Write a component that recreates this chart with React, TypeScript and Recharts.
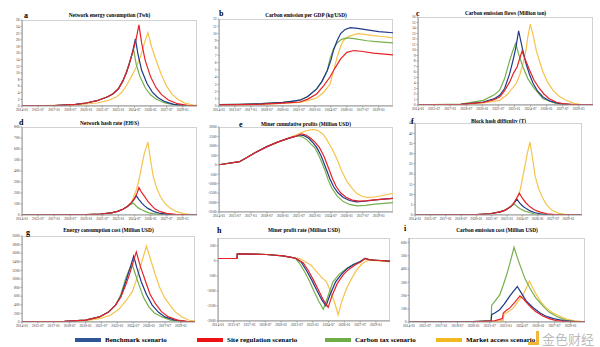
import React from 'react';
import { LineChart, Line, XAxis, YAxis } from 'recharts';

type Pt = [number, number];

// months counted from 2014-01
const MONTH_TICKS = [0, 18, 36, 54, 72, 90, 108, 126, 144, 162, 180];
const MONTH_LABELS = ['2014-01', '2015-07', '2017-01', '2018-07', '2020-01', '2021-07', '2023-01', '2024-07', '2026-01', '2027-07', '2029-01'];

const SCENARIOS = ['Benchmark scenario', 'Site regulation scenario', 'Carbon tax scenario', 'Market access scenario'];
const LINE_COLORS = ['#1f3a8a', '#e62229', '#76b04e', '#f6c34b'];
const SWATCH_COLORS = ['#2f5597', '#ee1111', '#70ad47', '#f2b822'];

// a - Network energy consumption (Twh)
const A_RISE: Pt[] = [[0, 0.05], [36, 0.15], [60, 0.5], [72, 0.9], [84, 1.6], [96, 2.8], [102, 3.7], [108, 5.2], [113, 7.6], [117, 10.2]];
const A_BENCH: Pt[] = [...A_RISE, [120, 12.6], [124, 16.6], [127, 20.3], [130, 15.5], [134, 10.8], [140, 6.8], [146, 4.2], [152, 2.6], [160, 1.3], [170, 0.5], [182, 0.15], [196, 0.05]];
const A_SITE: Pt[] = [...A_RISE, [120, 12.5], [124, 16.3], [127.5, 19.8], [131, 24.5], [134, 19], [138, 13.8], [144, 8.8], [150, 5.6], [156, 3.5], [164, 1.8], [174, 0.7], [185, 0.2], [196, 0.05]];
const A_TAX: Pt[] = [...A_RISE, [120, 12.9], [125, 17.1], [128, 12.5], [132, 9], [138, 5.5], [144, 3.4], [150, 2.1], [160, 0.9], [170, 0.4], [185, 0.1], [196, 0.03]];
const A_MARKET: Pt[] = [[0, 0.05], [60, 0.3], [84, 0.9], [96, 1.6], [106, 2.8], [112, 4.2], [117, 6.2], [122, 8.6], [128, 11.8], [133, 15.2], [137, 19], [141, 22.2], [145, 18], [150, 14], [156, 9.5], [162, 6], [168, 3.6], [175, 1.9], [183, 0.8], [192, 0.3], [196, 0.2]];

// b - Carbon emission per GDP (kg/USD)
const B_RISE: Pt[] = [[0, 0.18], [24, 0.22], [48, 0.32], [72, 0.5], [84, 0.68], [91, 0.8], [100, 1.3], [110, 2.35], [116, 3.4], [122, 4.9]];
const B_BENCH: Pt[] = [...B_RISE, [126, 6.3], [129, 7.7], [133, 9.0], [137, 10.0], [142, 10.55], [148, 10.8], [156, 10.7], [167, 10.5], [180, 10.25], [196, 10.1]];
const B_SITE: Pt[] = [[0, 0.15], [48, 0.25], [72, 0.4], [91, 0.55], [100, 0.95], [110, 1.66], [118, 2.8], [125, 4.0], [131, 5.3], [137, 6.5], [144, 7.4], [152, 7.65], [160, 7.55], [174, 7.3], [196, 7.05]];
const B_TAX: Pt[] = [...B_RISE, [125, 6.5], [129, 7.9], [133, 8.7], [138, 9.2], [144, 9.4], [152, 9.3], [167, 9.0], [180, 8.85], [196, 8.7]];
const B_MARKET: Pt[] = [[0, 0.15], [48, 0.22], [72, 0.35], [91, 0.5], [100, 0.75], [110, 1.1], [118, 1.9], [125, 3.0], [129, 4.8], [133, 6.7], [137, 8.2], [140, 9.0], [146, 9.6], [156, 9.97], [166, 9.85], [174, 9.7], [186, 9.55], [196, 9.4]];

// c - Carbon emission flows (Million ton)
const C_BENCH: Pt[] = [[0, 0.02], [48, 0.1], [73, 0.55], [85, 1.1], [91.5, 1.76], [97, 3.0], [102.7, 5.7], [107, 8.5], [110, 10.8], [112.7, 13.5], [117, 10.2], [121, 7.5], [125, 5.5], [129, 3.9], [134, 2.5], [140, 1.45], [148, 0.7], [159, 0.24], [175, 0.05], [196, 0.01]];
const C_SITE: Pt[] = [[0, 0.02], [48, 0.1], [73, 0.45], [85, 0.95], [91.5, 1.45], [97, 2.6], [102.7, 4.2], [107, 5.8], [111, 6.9], [116.5, 9.8], [120, 8.3], [125, 6.3], [130, 4.5], [136, 3.0], [141, 2.0], [147, 1.15], [155, 0.5], [162, 0.24], [178, 0.05], [196, 0.01]];
const C_TAX: Pt[] = [[0, 0.03], [48, 0.15], [73, 0.85], [85, 1.8], [91.5, 2.7], [97, 4.8], [102.7, 8.1], [106, 9.8], [109.4, 11.2], [113, 9.1], [117.6, 6.9], [123, 4.8], [129, 3.3], [135, 2.1], [140, 1.15], [150, 0.55], [155, 0.24], [170, 0.05], [196, 0.01]];
const C_MARKET: Pt[] = [[0, 0.02], [48, 0.08], [73, 0.4], [91.5, 0.85], [100, 1.9], [110, 3.9], [114, 5.5], [117.6, 7.5], [121, 10.0], [123, 12.4], [125.8, 14.7], [129, 12.6], [132.5, 9.9], [137, 7.5], [140, 6.0], [145, 4.2], [151, 2.7], [158, 1.6], [166, 0.85], [174, 0.35], [181, 0.12], [196, 0.02]];

// d - Network hash rate (EH/S)
const D_RISE: Pt[] = [[0, 0], [48, 1], [72, 3], [88, 9], [100, 20], [107, 33], [113, 52], [118, 78]];
const D_BENCH: Pt[] = [...D_RISE, [122, 105], [125, 135], [128, 174], [131, 140], [134, 110], [137, 85], [141, 60], [148, 30], [155, 14], [165, 5], [180, 1], [196, 0]];
const D_SITE: Pt[] = [...D_RISE, [122, 108], [126, 150], [129, 200], [131, 250], [134, 205], [138, 160], [141, 123], [145, 88], [149, 54], [155, 30], [162, 15], [172, 5], [185, 1], [196, 0]];
const D_TAX: Pt[] = [...D_RISE, [122, 98], [125, 108], [128, 80], [131, 60], [134, 48], [138, 33], [142, 20], [147, 12], [155, 5], [170, 1], [196, 0]];
const D_MARKET: Pt[] = [...D_RISE, [122, 110], [125, 160], [128, 228], [131, 320], [134, 439], [137, 560], [141, 662], [144, 500], [147, 349], [151, 240], [155, 168], [160, 105], [166, 63], [173, 30], [181, 12], [190, 4], [196, 2]];

// e - Miner cumulative profits (Million USD)
const E_RISE: Pt[] = [[0, 0], [23, 162], [32, 400], [40, 620], [54, 960], [66, 1200], [78, 1400], [86, 1500]];
const E_BENCH: Pt[] = [...E_RISE, [91, 1580], [96, 1540], [101, 1400], [106, 1160], [110, 920], [115, 480], [121, -250], [125, -750], [129, -1150], [134, -1480], [140, -1730], [147, -1890], [155, -1960], [164, -1930], [174, -1870], [185, -1820], [196, -1780]];
const E_SITE: Pt[] = [...E_RISE, [93, 1640], [98, 1580], [103, 1420], [108, 1200], [113, 920], [118, 480], [124, -250], [128, -750], [132, -1150], [137, -1480], [143, -1720], [150, -1870], [158, -1925], [167, -1900], [178, -1840], [196, -1780]];
const E_TAX: Pt[] = [...E_RISE, [89, 1530], [94, 1470], [99, 1320], [104, 1080], [108, 900], [113, 440], [119, -250], [123, -800], [127, -1230], [133, -1650], [140, -1950], [147, -2100], [155, -2180], [165, -2150], [176, -2080], [196, -2000]];
const E_MARKET: Pt[] = [[0, 0], [23, 162], [32, 400], [40, 620], [54, 960], [66, 1200], [76, 1380], [86, 1560], [92, 1690], [98, 1800], [106, 1870], [112, 1800], [117, 1620], [121, 1370], [127, 880], [133, 290], [138, -300], [144, -880], [150, -1250], [155, -1510], [160, -1640], [166, -1730], [174, -1720], [183, -1640], [196, -1510]];

// f - Block hash difficulty (T)
const F_RISE: Pt[] = [[0, 0], [48, 0.05], [72, 0.2], [88, 0.6], [100, 1.5], [106, 2.4], [112, 4.0]];
const F_BENCH: Pt[] = [...F_RISE, [116, 5.8], [119.6, 7.7], [123, 5.8], [127, 4.2], [131, 3.0], [135, 2.0], [140, 1.2], [147, 0.6], [155, 0.25], [170, 0.05], [196, 0]];
const F_SITE: Pt[] = [...F_RISE, [116, 5.8], [119, 8.0], [122.5, 10.7], [126, 8.2], [130, 6.0], [135, 4.0], [140, 2.6], [147, 1.4], [155, 0.6], [165, 0.2], [180, 0.05], [196, 0]];
const F_TAX: Pt[] = [...F_RISE, [114.5, 4.8], [117, 5.3], [120, 4.0], [124, 2.9], [129, 1.9], [134, 1.2], [140, 0.6], [150, 0.2], [165, 0.05], [196, 0]];
const F_MARKET: Pt[] = [...F_RISE, [117, 6.0], [120, 8.5], [123.5, 12.3], [126, 17.5], [129, 24], [132, 30.5], [135, 35.7], [138, 27.5], [141, 19], [145, 13], [149, 9], [154, 5.2], [160.7, 2.3], [168, 0.9], [176, 0.3], [190, 0.05], [196, 0]];

// g - Energy consumption cost (Million USD)
const G_RISE: Pt[] = [[0, 2], [48, 15], [72, 45], [87.7, 118], [98, 230], [106, 392]];
const G_BENCH: Pt[] = [...G_RISE, [112, 600], [117.6, 941], [122, 1230], [126.5, 1530], [130, 1270], [135, 941], [141, 640], [147.5, 392], [155, 220], [162, 118], [172, 50], [185, 16], [196, 6]];
const G_SITE: Pt[] = [...G_RISE, [112, 580], [117.6, 863], [122, 1120], [126, 1400], [129.5, 1631], [134, 1300], [140, 941], [145, 650], [151, 431], [158, 240], [166, 118], [176, 45], [187, 16], [196, 6]];
const G_TAX: Pt[] = [...G_RISE, [112, 640], [117.6, 1020], [121, 1200], [125, 1333], [128, 1140], [132.5, 863], [138, 560], [143.7, 353], [150, 210], [158.7, 118], [168, 45], [180, 16], [196, 6]];
const G_MARKET: Pt[] = [[0, 2], [48, 10], [72, 30], [88, 80], [100, 157], [110, 300], [118, 500], [125, 706], [129, 940], [132.5, 1176], [136, 1420], [141, 1765], [145, 1500], [151, 1098], [156, 800], [162, 549], [168, 380], [173.6, 235], [181, 120], [188.5, 47], [196, 20]];

// h - Miner profit rate (Million USD)
const H_START: Pt[] = [[0, 78], [21.5, 78], [22, 233], [40, 225], [55, 211], [74, 167], [85, 110]];
const H_BENCH: Pt[] = [...H_START, [89, 78], [95, -50], [101, -330], [107, -650], [113, -1000], [118, -1280], [123, -1500], [128, -1100], [134, -700], [141, -430], [148, -240], [155, -110], [162, -20], [167.5, 78], [172, 40], [180, 20], [196, -11]];
const H_SITE: Pt[] = [...H_START, [89, 78], [97, -60], [103, -330], [109, -650], [115, -1000], [120, -1300], [125.6, -1545], [130, -1150], [136, -750], [143, -450], [150, -260], [157, -120], [163, -30], [167.5, 78], [172, 40], [180, 20], [196, -11]];
const H_TAX: Pt[] = [...H_START, [89, 60], [93, -89], [99, -380], [104.7, -700], [110, -1050], [115, -1350], [120, -1611], [125, -1200], [131, -700], [138, -450], [146.5, -255], [154, -120], [161.8, -33], [167.5, 78], [172, 40], [180, 20], [196, -11]];
const H_MARKET: Pt[] = [...H_START, [93, 78], [100, -40], [106, -144], [112, -350], [118, -550], [123.7, -700], [128, -1000], [133, -1400], [137, -1790], [141, -1350], [146.5, -922], [152, -600], [158, -311], [163, -130], [167.5, -33], [172, 22], [180, 10], [196, -33]];

// i - Carbon emission cost (Million USD)
const I_BENCH: Pt[] = [[0, 0], [40, 1], [70, 3], [91.5, 8], [92, 55], [96, 70], [101, 93], [106, 135], [112, 193], [116, 230], [120.6, 268], [125, 220], [131, 155], [138, 110], [146, 68], [153, 42], [161, 25], [172, 10], [185, 3], [196, 1]];
const I_SITE: Pt[] = [[0, 0], [70, 2], [95, 8], [101, 20], [104, 25], [105, 68], [109, 90], [112, 105], [118, 150], [123.6, 198], [128, 170], [134.7, 118], [141, 80], [149.5, 43], [156, 25], [164, 10], [176, 3], [196, 1]];
const I_TAX: Pt[] = [[0, 0], [40, 1], [70, 3], [91.5, 8], [92, 125], [96, 160], [101, 205], [105, 280], [108.7, 355], [113, 460], [117, 565], [120, 500], [123.6, 430], [129, 330], [134.7, 255], [141, 185], [149.5, 118], [156, 75], [164, 43], [175.5, 10], [185, 3], [196, 1]];
const I_MARKET: Pt[] = [[0, 0], [70, 2], [100, 8], [105, 12], [105.5, 55], [110, 75], [116, 105], [121, 150], [127, 205], [131, 260], [134, 310], [138, 255], [142, 205], [147, 150], [153, 105], [160, 70], [168, 43], [176, 20], [183, 10], [196, 2]];

const range = (a: number, b: number, s: number) => {
  const out: number[] = [];
  for (let v = a; v <= b + 1e-9; v += s) out.push(v);
  return out;
};

interface PanelSpec {
  letter: string;
  title: string;
  frame: [number, number, number, number];
  titleY: number;
  letterPos: [number, number];
  domain: [number, number];
  ticks: number[];
  series: Pt[][]; // bench, site, tax, market
}

const PANELS: PanelSpec[] = [
  { letter: 'a', title: 'Network energy consumption (Twh)', frame: [22, 20, 197, 106], titleY: 15, letterPos: [24, 11], domain: [0, 26], ticks: range(0, 26, 2), series: [A_BENCH, A_SITE, A_TAX, A_MARKET] },
  { letter: 'b', title: 'Carbon emission per GDP (kg/USD)', frame: [219, 19, 393, 106], titleY: 15, letterPos: [219, 9], domain: [0, 12], ticks: range(0, 12, 1), series: [B_BENCH, B_SITE, B_TAX, B_MARKET] },
  { letter: 'c', title: 'Carbon emission flows (Million ton)', frame: [418, 17, 593, 105], titleY: 13, letterPos: [416, 9], domain: [0, 16], ticks: range(0, 16, 1), series: [C_BENCH, C_SITE, C_TAX, C_MARKET] },
  { letter: 'd', title: 'Network hash rate (EH/S)', frame: [22, 127, 197, 215], titleY: 123, letterPos: [19, 118], domain: [0, 800], ticks: range(0, 800, 100), series: [D_BENCH, D_SITE, D_TAX, D_MARKET] },
  { letter: 'e', title: 'Miner cumulative profits (Million USD)', frame: [219, 127, 393, 212], titleY: 124, letterPos: [239, 120], domain: [-2500, 2000], ticks: range(-2500, 2000, 500), series: [E_BENCH, E_SITE, E_TAX, E_MARKET] },
  { letter: 'f', title: 'Block hash difficulty (T)', frame: [415, 123, 582, 215], titleY: 121, letterPos: [411, 117], domain: [0, 45], ticks: range(0, 45, 5), series: [F_BENCH, F_SITE, F_TAX, F_MARKET] },
  { letter: 'g', title: 'Energy consumption cost (Million USD)', frame: [22, 236, 195, 322], titleY: 230, letterPos: [26, 228], domain: [0, 2000], ticks: range(0, 2000, 200), series: [G_BENCH, G_SITE, G_TAX, G_MARKET] },
  { letter: 'h', title: 'Miner profit rate (Million USD)', frame: [218, 238, 390, 321], titleY: 230, letterPos: [217, 226], domain: [-2000, 760], ticks: range(-2000, 500, 500), series: [H_BENCH, H_SITE, H_TAX, H_MARKET] },
  { letter: 'i', title: 'Carbon emission cost (Million USD)', frame: [409, 238, 585, 322], titleY: 230, letterPos: [404, 224], domain: [0, 635], ticks: range(0, 600, 100), series: [I_BENCH, I_SITE, I_TAX, I_MARKET] },
];

const SERIF = '"Liberation Serif", "Times New Roman", serif';
const tickStyle = { fontSize: 3.6, fill: '#333', fontFamily: SERIF };
const toPts = (a: Pt[]) => a.map(([m, v]) => ({ m, v }));
const DRAW_ORDER = [3, 2, 0, 1];

const Panel: React.FC<{ p: PanelSpec }> = ({ p }) => {
  const [x1, y1, x2, y2] = p.frame;
  const padL = 22, padT = 2, padB = 9, padR = 2;
  const width = x2 - x1 + padL + padR;
  const height = y2 - y1 + padT + padB;
  return (
    <>
      <div style={{ position: 'absolute', left: x1, width: x2 - x1, top: p.titleY - 4, fontSize: 5.3, fontWeight: 'bold', fontFamily: SERIF, textAlign: 'center', lineHeight: '8px', whiteSpace: 'nowrap' }}>
        {p.title}
      </div>
      <div style={{ position: 'absolute', left: x1 - padL, top: y1 - padT, width, height }}>
        <div style={{ position: 'absolute', left: padL, top: padT, width: x2 - x1, height: y2 - y1, border: '1px solid #d2d2d2', boxSizing: 'border-box' }} />
        <LineChart width={width} height={height} margin={{ top: padT, right: padR, bottom: 0, left: 0 }}>
          <XAxis
            type="number"
            dataKey="m"
            domain={[0, 196]}
            ticks={MONTH_TICKS}
            interval={0}
            tickFormatter={(v: number) => MONTH_LABELS[MONTH_TICKS.indexOf(v)] ?? ''}
            tick={tickStyle}
            tickSize={1.5}
            tickMargin={0.5}
            height={padB}
            axisLine={{ stroke: '#999' }}
            tickLine={{ stroke: '#999' }}
            allowDataOverflow
          />
          <YAxis
            type="number"
            domain={p.domain}
            ticks={p.ticks}
            interval={0}
            tick={tickStyle}
            tickSize={1.5}
            tickMargin={1}
            width={padL}
            axisLine={{ stroke: '#999' }}
            tickLine={{ stroke: '#999' }}
            allowDataOverflow
          />
          {DRAW_ORDER.map((k) => (
            <Line
              key={k}
              data={toPts(p.series[k])}
              dataKey="v"
              type="linear"
              stroke={LINE_COLORS[k]}
              strokeWidth={1.2}
              dot={false}
              isAnimationActive={false}
            />
          ))}
        </LineChart>
      </div>
      <div style={{ position: 'absolute', left: p.letterPos[0], top: p.letterPos[1], fontSize: 8, fontWeight: 'bold', fontFamily: SERIF, lineHeight: '9px' }}>
        {p.letter}
      </div>
    </>
  );
};

const LEGEND_X = [75, 197, 325, 436];

export default function App() {
  return (
    <div style={{ position: 'absolute', left: 0, top: 0, width: 600, height: 347, background: '#fff', overflow: 'hidden' }}>
      {PANELS.map((p) => (
        <Panel key={p.letter} p={p} />
      ))}
      {SCENARIOS.map((name, k) => (
        <div key={name} style={{ position: 'absolute', left: LEGEND_X[k], top: 335, display: 'flex', alignItems: 'center', height: 9 }}>
          <div style={{ width: 26, height: 4, background: SWATCH_COLORS[k], marginRight: 4 }} />
          <span style={{ fontSize: 7, fontWeight: 'bold', fontFamily: SERIF, whiteSpace: 'nowrap' }}>{name}</span>
        </div>
      ))}
      <div style={{ position: 'absolute', left: 528, top: 331, width: 11, height: 14, border: '3px solid rgba(240,170,20,0.85)', borderLeft: 'none', borderTop: 'none', boxSizing: 'border-box' }} />
      <div style={{ position: 'absolute', left: 542, top: 331, fontSize: 13, fontFamily: '"Noto Sans CJK SC", sans-serif', color: 'rgba(175,175,175,0.85)', lineHeight: '15px', whiteSpace: 'nowrap' }}>
        金色财经
      </div>
    </div>
  );
}
